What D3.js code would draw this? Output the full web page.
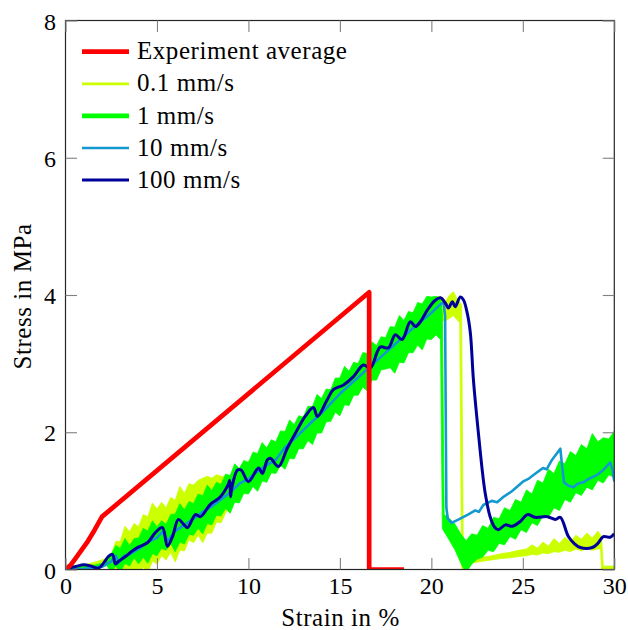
<!DOCTYPE html>
<html>
<head>
<meta charset="utf-8">
<script src="https://cdn.jsdelivr.net/npm/d3@7"></script>
<style>
    body { margin: 0; background: #ffffff; }
    svg text { font-family: 'Liberation Serif' !important; font-size: 24px; }
    svg text.wide { font-size: 25px; letter-spacing: 0.55px; }
</style>
</head>
<body>
<div id="chart"></div>
<script>
// axis ticks and legend
var xTicks = [0, 5, 10, 15, 20, 25, 30];
var yTicks = [0, 2, 4, 6, 8];
var legendLabels = ["Experiment average", "0.1 mm/s", "1 mm/s", "10 mm/s", "100 mm/s"];

// Experiment average
var avgStrain = [0, 0.3, 0.63, 1.17, 1.6, 2.0, 16.6, 16.6, 18.5];
var avgStress = [0, 0.07, 0.19, 0.39, 0.58, 0.77, 4.04, 0, 0];

// 0.1 mm/s (noisy, drawn as band between low / high envelope)
var slowStrain = [0, 0.5, 1, 1.5, 2, 2.25,
    2.5, 2.75, 3, 3.25, 3.5, 3.75, 4, 4.25, 4.5, 4.75, 5, 5.25, 5.5, 5.75, 6, 6.25, 6.5, 6.75, 7, 7.25, 7.5, 7.75, 8, 8.25, 8.5,
    9, 9.5, 10, 10.5, 11, 11.5, 12, 12.5, 13, 13.5, 14, 14.5, 15, 15.5, 16, 16.5, 17, 17.5, 18, 18.5, 19, 19.5, 20, 20.5,
    20.75, 21, 21.2, 21.4, 21.55,
    21.65, 21.75, 22, 22.3, 22.8, 23.3, 23.8, 24.3, 24.8, 25.2, 25.5, 25.8, 26.1, 26.4, 26.7, 27, 27.3, 27.6, 27.9, 28.2, 28.5, 28.8, 29.1, 29.25, 29.3, 29.4, 30];
var slowHigh = [0.03, 0.05, 0.07, 0.1, 0.14, 0.17,
    0.22, 0.41, 0.41, 0.63, 0.55, 0.67, 0.62, 0.80, 0.77, 0.97, 0.88, 0.98, 0.90, 1.05, 1.01, 1.21, 1.11, 1.25, 1.23, 1.30, 1.33, 1.36, 1.33, 1.38, 1.36,
    1.34, 1.44, 1.58, 1.64, 1.78, 1.84, 2.0, 2.08, 2.24, 2.32, 2.5, 2.6, 2.78, 2.86, 3.02, 3.1, 3.26, 3.36, 3.52, 3.6, 3.76, 3.84, 3.96, 3.98,
    3.9, 4.0, 4.05, 3.95, 3.9,
    3.85, 0.1, 0.12, 0.17, 0.18, 0.2, 0.23, 0.25, 0.28, 0.3, 0.36, 0.31, 0.4, 0.34, 0.45, 0.38, 0.47, 0.4, 0.5, 0.44, 0.53, 0.46, 0.56, 0.5, 0.48, 0.05, 0.05];
var slowLow = [-0.02, 0.0, 0.02, 0.04, 0.06, 0.09,
    -0.02, 0.01, -0.17, -0.06, -0.13, -0.03, -0.10, 0.04, -0.05, 0.12, 0.08, 0.20, 0.14, 0.25, 0.11, 0.28, 0.27, 0.43, 0.39, 0.50, 0.39, 0.53, 0.53, 0.69, 0.68,
    0.96, 1.06, 1.16, 1.28, 1.36, 1.48, 1.58, 1.72, 1.82, 1.96, 2.08, 2.24, 2.36, 2.5, 2.6, 2.74, 2.85, 3.0, 3.1, 3.24, 3.34, 3.46, 3.56, 3.62,
    3.62, 3.66, 3.7, 3.64, 3.6,
    0.02, 0.0, 0.02, 0.1, 0.12, 0.14, 0.16, 0.17, 0.19, 0.2, 0.22, 0.21, 0.24, 0.23, 0.26, 0.25, 0.28, 0.26, 0.3, 0.27, 0.31, 0.28, 0.3, 0.3, 0.0, 0.0, 0.0];

// 1 mm/s (noisy band)
var oneStrain = [0, 0.5, 1, 1.5, 2, 2.25,
    2.5, 2.75, 3, 3.25, 3.5, 3.75, 4, 4.25, 4.5, 4.75, 5, 5.25, 5.5, 5.75, 6, 6.25, 6.5, 6.75, 7, 7.25, 7.5, 7.75, 8, 8.25, 8.5, 8.75,
    9, 9.25, 9.5, 9.75, 10, 10.25, 10.5, 10.75, 11, 11.25, 11.5, 11.75, 12, 12.25, 12.5, 12.75, 13, 13.25, 13.5, 13.75, 14, 14.25,
    14.5, 14.75, 15, 15.25, 15.5, 15.75, 16, 16.25, 16.5, 16.75, 17, 17.25, 17.5, 17.75, 18, 18.25, 18.5, 18.75, 19, 19.25, 19.5, 19.75, 20, 20.25, 20.5,
    20.6,
    20.7, 21, 21.3, 21.6, 21.9, 22.2, 22.5, 22.8, 23.1, 23.4, 23.7, 24, 24.3, 24.6, 24.9, 25.2, 25.5, 25.8, 26.1, 26.4, 26.7, 27, 27.3, 27.6, 27.9, 28.2, 28.5, 28.8, 29.1, 29.4, 29.7, 30];
var oneHigh = [0.03, 0.04, 0.05, 0.06, 0.09, 0.12,
    0.22, 0.35, 0.31, 0.45, 0.35, 0.45, 0.46, 0.60, 0.56, 0.71, 0.62, 0.71, 0.66, 0.80, 0.81, 0.96, 0.87, 0.99, 0.96, 1.10, 1.07, 1.23, 1.15, 1.27, 1.24, 1.39,
    1.37, 1.54, 1.47, 1.59, 1.56, 1.71, 1.69, 1.85, 1.77, 1.89, 1.86, 2.02, 2.01, 2.18, 2.11, 2.24, 2.22, 2.38, 2.37, 2.55, 2.49, 2.63,
    2.62, 2.79, 2.79, 2.96, 2.89, 3.02, 3.00, 3.16, 3.15, 3.32, 3.26, 3.39, 3.38, 3.54, 3.53, 3.70, 3.63, 3.76, 3.74, 3.89, 3.87, 3.98, 3.97, 3.98, 3.95,
    3.75,
    0.80, 0.74, 0.66, 0.52, 0.42, 0.52, 0.50, 0.64, 0.60, 0.76, 0.74, 0.90, 0.86, 1.02, 0.98, 1.16, 1.10, 1.30, 1.26, 1.46, 1.40, 1.58, 1.54, 1.72, 1.66, 1.82, 1.76, 1.98, 1.86, 1.92, 1.90, 2.02];
var oneLow = [-0.03, -0.02, -0.01, 0.0, 0.03, 0.06,
    -0.04, 0.05, -0.04, 0.09, 0.05, 0.17, 0.08, 0.18, 0.09, 0.23, 0.20, 0.31, 0.28, 0.38, 0.26, 0.40, 0.37, 0.51, 0.50, 0.60, 0.52, 0.67, 0.65, 0.79, 0.78, 0.89,
    0.82, 0.98, 0.97, 1.11, 1.10, 1.21, 1.14, 1.29, 1.27, 1.41, 1.40, 1.52, 1.46, 1.62, 1.61, 1.76, 1.76, 1.88, 1.82, 1.99, 1.99, 2.15,
    2.16, 2.29, 2.24, 2.40, 2.39, 2.54, 2.54, 2.66, 2.60, 2.76, 2.76, 2.91, 2.92, 2.94, 2.86, 3.02, 3.01, 3.16, 3.16, 3.27, 3.20, 3.36, 3.35, 3.42, 3.35,
    0.60,
    0.55, 0.42, 0.28, 0.10, -0.05, 0.08, 0.15, 0.18, 0.28, 0.26, 0.38, 0.36, 0.48, 0.44, 0.58, 0.54, 0.68, 0.64, 0.78, 0.76, 0.90, 0.86, 1.02, 0.98, 1.12, 1.08, 1.20, 1.16, 1.30, 1.26, 1.38, 1.34];

// 10 mm/s
var tenStrain = [0, 1, 2, 2.5, 2.75, 2.9, 3.2, 3.5, 4, 4.5, 5, 5.3, 5.6, 6, 6.5, 7, 7.5, 8, 8.5, 9,
    9.5, 10, 10.5, 11, 11.5, 12, 12.5, 13, 13.5, 14, 14.5, 15, 15.5, 16, 16.5, 17, 17.5, 18, 18.5, 19,
    19.5, 20, 20.4, 20.66, 20.75, 20.82, 20.9, 21.1, 21.5, 22, 22.4, 22.6, 22.84, 23.3, 23.6, 23.9, 24.4, 25, 25.3, 25.6,
    26.1, 26.3, 26.6, 27.05, 27.15, 27.25, 27.5, 27.76, 28, 28.3, 28.6, 29.07, 29.4, 29.78, 29.9, 30];
var tenStress = [0, 0.01, 0.04, 0.12, 0.2, 0.1, 0.2, 0.22, 0.3, 0.4, 0.46, 0.55, 0.42, 0.56, 0.65, 0.74, 0.84, 0.92, 1.02, 1.12,
    1.25, 1.32, 1.43, 1.52, 1.6, 1.78, 1.9, 2.03, 2.16, 2.28, 2.42, 2.56, 2.68, 2.8, 2.92, 3.04, 3.16, 3.28, 3.4, 3.52,
    3.63, 3.74, 3.84, 3.9, 3.7, 0.9, 0.74, 0.68, 0.73, 0.8, 0.86, 0.84, 0.94, 1.0, 0.98, 1.05, 1.14, 1.28, 1.32, 1.38,
    1.48, 1.46, 1.6, 1.76, 1.5, 1.27, 1.22, 1.2, 1.25, 1.27, 1.32, 1.38, 1.45, 1.56, 1.45, 1.28];

// 100 mm/s
var hundredStrain = [0, 0.5, 1.0, 1.4, 1.8, 2.1, 2.35, 2.57, 2.73, 2.9, 3.28, 3.6, 3.93, 4.48, 4.92, 5.3, 5.57, 5.85, 6.17, 6.45,
    6.67, 7.1, 7.38, 7.92, 8.47, 8.9, 8.98, 9.02, 9.1, 9.4, 9.6, 10.0, 10.55, 10.76, 11.04, 11.2, 11.64, 12.13, 12.68, 13.1,
    13.55, 13.77, 14.3, 14.64, 15.2, 15.74, 16.28, 16.67, 17.2, 17.65, 18.03, 18.4, 18.85, 19.13, 19.4, 19.78, 20.2, 20.5, 20.77, 20.93,
    21.15, 21.3, 21.58, 21.75, 21.95, 22.13, 22.3, 22.57, 22.8, 22.95, 23.2, 23.45, 23.66, 24.04, 24.43, 24.86, 25.25, 25.68, 26.34, 26.78,
    27.05, 27.49, 27.8, 28.14, 28.8, 29.1, 29.4, 29.78, 30];
var hundredStress = [0.02, 0.04, 0.07, 0.05, 0.02, 0.1, 0.19, 0.22, 0.08, 0.12, 0.19, 0.26, 0.32, 0.39, 0.54, 0.61, 0.34, 0.48, 0.73, 0.66,
    0.61, 0.8, 0.77, 0.95, 1.06, 1.24, 1.3, 1.06, 1.2, 1.45, 1.45, 1.28, 1.48, 1.4, 1.6, 1.62, 1.5, 1.77, 2.04, 2.23,
    2.36, 2.23, 2.47, 2.62, 2.69, 2.81, 2.98, 2.94, 3.24, 3.23, 3.42, 3.35, 3.61, 3.54, 3.61, 3.78, 3.92, 3.96, 3.88, 3.81,
    3.9, 3.83, 3.97, 3.93, 3.75, 3.45, 2.76, 1.99, 1.4, 1.1, 0.78, 0.62, 0.58, 0.65, 0.63, 0.7, 0.8, 0.76, 0.77, 0.73,
    0.76, 0.48, 0.38, 0.32, 0.32, 0.38, 0.48, 0.47, 0.52];

var colors = ["#ff0000", "#ccff00", "#00ff00", "#1399cf", "#00009a"];
var legendWidths = [4.7, 2.7, 4.7, 2.7, 3];

function drawChart(containerId) {
    var width = 628,
        height = 630;
    var left = 65.5, right = 614.3, top = 20.5, bottom = 569.5;

    var svg = d3.select('#' + containerId).append("svg")
        .attr("width", width)
        .attr("height", height);

    var x = d3.scaleLinear().domain([0, 30]).range([left, right]);
    var y = d3.scaleLinear().domain([0, 8]).range([bottom, top]);

    //clip plots to axis box
    svg.append("defs").append("clipPath")
        .attr("id", "plot-clip")
        .append("rect")
        .attr("x", left)
        .attr("y", top)
        .attr("width", right - left)
        .attr("height", bottom - top);

    var plot = svg.append("g").attr("clip-path", "url(#plot-clip)");

    //band for noisy series
    function drawBand(strain, low, high, color) {
        var band = d3.area()
            .x(i => x(strain[i]))
            .y0(i => y(low[i]))
            .y1(i => y(high[i]));
        plot.append("path")
            .datum(d3.range(strain.length))
            .attr("d", band)
            .attr("fill", color)
            .attr("stroke", color)
            .attr("stroke-width", 0.8)
            .attr("stroke-linejoin", "round");
    }

    function drawLine(strain, stress, color, w, curve) {
        var line = d3.line()
            .x(i => x(strain[i]))
            .y(i => y(stress[i]))
            .curve(curve || d3.curveLinear);
        plot.append("path")
            .datum(d3.range(strain.length))
            .attr("d", line)
            .attr("fill", "none")
            .attr("stroke", color)
            .attr("stroke-width", w)
            .attr("stroke-linejoin", "round");
    }

    drawBand(slowStrain, slowLow, slowHigh, colors[1]);
    drawBand(oneStrain, oneLow, oneHigh, colors[2]);
    drawLine(tenStrain, tenStress, colors[3], 2.6);
    drawLine(hundredStrain, hundredStress, colors[4], 3, d3.curveCatmullRom.alpha(0.5));
    drawLine(avgStrain, avgStress, colors[0], 4.7);

    //axis box
    svg.append("rect")
        .attr("x", left)
        .attr("y", top)
        .attr("width", right - left)
        .attr("height", bottom - top)
        .attr("fill", "none")
        .attr("stroke", "#262626")
        .attr("stroke-width", 1.2);

    var tickLen = 11.5;
    var xBottom = svg.append("g")
        .attr("transform", `translate(0,${bottom})`)
        .call(d3.axisBottom(x).tickValues(xTicks).tickSize(-tickLen).tickFormat(d3.format("d")));
    var xTop = svg.append("g")
        .attr("transform", `translate(0,${top})`)
        .call(d3.axisTop(x).tickValues(xTicks).tickSize(-tickLen).tickFormat(""));
    var yLeft = svg.append("g")
        .attr("transform", `translate(${left},0)`)
        .call(d3.axisLeft(y).tickValues(yTicks).tickSize(-tickLen).tickFormat(d3.format("d")));
    var yRight = svg.append("g")
        .attr("transform", `translate(${right},0)`)
        .call(d3.axisRight(y).tickValues(yTicks).tickSize(-tickLen).tickFormat(""));

    [xBottom, xTop, yLeft, yRight].forEach(function (g) {
        g.attr("font-family", null).attr("font-size", null);
        g.select(".domain").remove();
        g.selectAll(".tick line").attr("stroke", "#808080").attr("stroke-width", 1.1);
    });

    xBottom.selectAll("text")
        .attr("y", 24)
        .attr("dy", null)
        .attr("fill", "#000");

    yLeft.selectAll("text")
        .attr("x", -9.5)
        .attr("y", 8.5)
        .attr("dy", null)
        .attr("fill", "#000");

    //axis titles
    svg.append("text")
        .attr("class", "wide")
        .attr("x", 340.5)
        .attr("y", 626)
        .attr("text-anchor", "middle")
        .text("Strain in %");

    svg.append("text")
        .attr("class", "wide")
        .attr("transform", "translate(31,296.5) rotate(-90)")
        .attr("text-anchor", "middle")
        .text("Stress in MPa");

    //legend, no frame
    var legendY0 = 51.7, legendStep = 32.1;
    var legend = svg.append("g").attr("class", "legend");
    legendLabels.forEach(function (label, i) {
        var ly = legendY0 + i * legendStep;
        legend.append("line")
            .attr("x1", 82)
            .attr("x2", 129)
            .attr("y1", ly)
            .attr("y2", ly)
            .attr("stroke", colors[i])
            .attr("stroke-width", legendWidths[i]);
        legend.append("text")
            .attr("class", "wide")
            .attr("x", 137)
            .attr("y", ly + 7.6)
            .text(label);
    });
}

drawChart("chart");
</script>
</body>
</html>
